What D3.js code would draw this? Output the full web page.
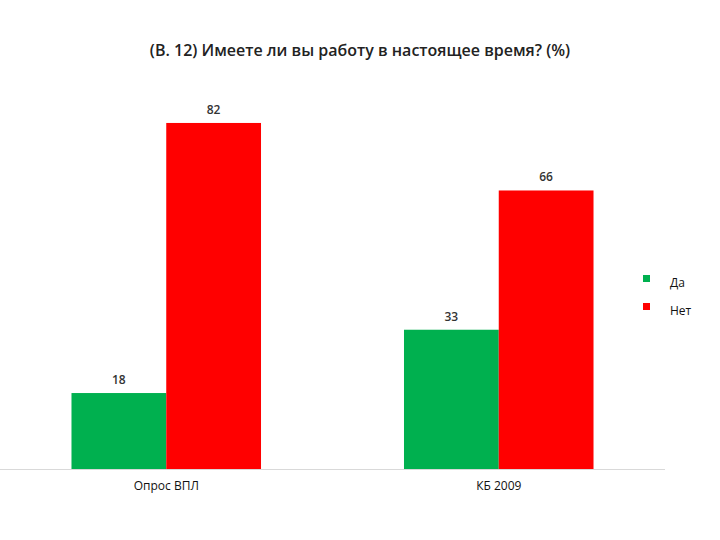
<!DOCTYPE html>
<html><head><meta charset="utf-8">
<script src="https://cdn.jsdelivr.net/npm/d3@7"></script>
<style>body{margin:0;background:#fff;font-family:"Open Sans",sans-serif}</style>
</head><body><svg id="c" width="720" height="540"></svg>
<script>
const categories = ["Опрос ВПЛ", "КБ 2009"];
const seriesNames = ["Да", "Нет"];
const da = [18, 33];
const net = [82, 66];
const colors = ["#00b04f", "#ff0000"];

const svg = d3.select("#c");
const y = d3.scaleLinear().domain([0, 100]).range([469, 47]);
const x = d3.scaleBand().domain(categories).range([0, 665]).paddingInner(0.43).paddingOuter(0.215);
const xs = d3.scaleBand().domain(seriesNames).range([0, x.bandwidth()]);
const series = [da, net];

svg.append("text").attr("x", 360).attr("y", 56).attr("text-anchor", "middle")
  .attr("font-size", 16).attr("font-weight", 600).attr("fill", "#222")
  .text("(В.  12)  Имеете ли  вы работу в настоящее время?  (%)");

categories.forEach((c, i) => {
  seriesNames.forEach((s, j) => {
    const v = series[j][i];
    svg.append("rect").attr("x", x(c) + xs(s)).attr("y", y(v))
      .attr("width", xs.bandwidth()).attr("height", y(0) - y(v)).attr("fill", colors[j]);
    svg.append("text").attr("x", x(c) + xs(s) + xs.bandwidth() / 2).attr("y", y(v) - 9)
      .attr("text-anchor", "middle").attr("font-size", 12).attr("font-weight", 600).attr("fill", "#333").text(v);
  });
});

svg.append("line").attr("x1", 0).attr("x2", 665).attr("y1", y(0) + 0.5).attr("y2", y(0) + 0.5).attr("stroke", "#d9d9d9");

const xa = svg.append("g").attr("transform", `translate(0,${y(0)})`)
  .call(d3.axisBottom(x).tickSize(0).tickPadding(12));
xa.select(".domain").remove();
xa.selectAll("text").attr("font-size", 12).attr("fill", "#111").attr("font-family", "Open Sans");

seriesNames.forEach((s, j) => {
  const ly = 280 + j * 28;
  svg.append("rect").attr("x", 643).attr("y", ly - 5).attr("width", 7).attr("height", 7).attr("fill", colors[j]);
  svg.append("text").attr("x", 670).attr("y", ly + 7).attr("font-size", 12).attr("fill", "#111").text(s);
});
</script></body></html>
